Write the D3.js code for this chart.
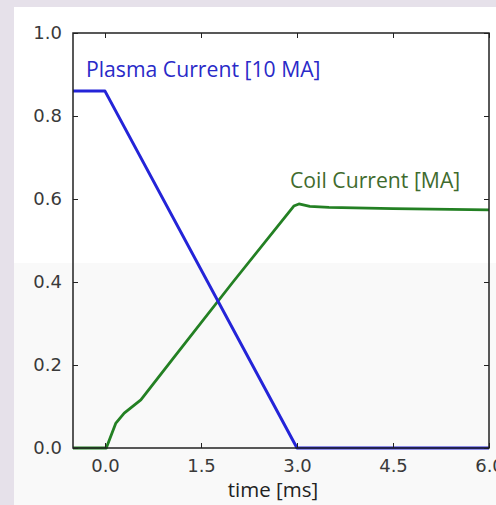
<!DOCTYPE html>
<html>
<head>
<meta charset="utf-8">
<script src="https://cdn.jsdelivr.net/npm/d3@7"></script>
<style>
html,body{margin:0;padding:0;background:#e6e1ea;overflow:hidden;}
svg{display:block;}
</style>
</head>
<body>
<svg id="c" width="496" height="505"></svg>
<script>
// ---- data ----
const plasmaT = [-0.5, 0.0, 3.0, 6.0];
const plasmaI = [0.86, 0.86, 0.0, 0.0];
const coilT = [-0.5, 0.02, 0.17, 0.30, 0.56, 1.05, 2.0, 2.95, 3.03, 3.2, 3.5, 4.5, 6.0];
const coilI = [0.0, 0.0, 0.06, 0.084, 0.116, 0.213, 0.40, 0.583, 0.588, 0.582, 0.580, 0.577, 0.574];
const xTicks = [0.0, 1.5, 3.0, 4.5, 6.0];
const yTicks = [0.0, 0.2, 0.4, 0.6, 0.8, 1.0];
const plasmaLabel = "Plasma Current [10 MA]";
const coilLabel = "Coil Current [MA]";
const xLabel = "time [ms]";

const svg = d3.select("#c");
// panel
svg.append("rect").attr("x",14).attr("y",7).attr("width",482).attr("height",498).attr("fill","#ffffff");
svg.append("rect").attr("x",14).attr("y",263).attr("width",482).attr("height",242).attr("fill","#f9f9f9");

const L = 73, R = 489, T = 33, B = 448;
const x = d3.scaleLinear().domain([-0.5, 6.0]).range([L, R]);
const y = d3.scaleLinear().domain([0, 1.0]).range([B, T]);

const tickFont = "'DejaVu Sans', sans-serif";
const textCol = "#3a3a3a";

// lines
const line = d3.line().x(d=>x(d[0])).y(d=>y(d[1]));

svg.append("path").datum(coilT.map((t,i)=>[t,coilI[i]]))
  .attr("d",line).attr("fill","none").attr("stroke","#238023").attr("stroke-width",2.8)
  .attr("stroke-linejoin","round");
svg.append("path").datum(plasmaT.map((t,i)=>[t,plasmaI[i]]))
  .attr("d",line).attr("fill","none").attr("stroke","#2424d8").attr("stroke-width",3)
  .attr("stroke-linejoin","round");

// axes (ticks inward)
function styleAxis(g){
  g.select(".domain").remove();
  g.selectAll(".tick line").attr("stroke","#222").attr("stroke-width",1);
  g.selectAll(".tick text").attr("fill",textCol).style("font-family",tickFont).style("font-size","18px");
}
svg.append("g").attr("transform",`translate(0,${B})`)
  .call(d3.axisBottom(x).tickValues(xTicks).tickFormat(d3.format(".1f")).tickSizeInner(-5).tickPadding(11))
  .call(styleAxis);
svg.append("g").attr("transform",`translate(0,${T})`)
  .call(d3.axisTop(x).tickValues(xTicks).tickFormat("").tickSizeInner(-5))
  .call(styleAxis);
svg.append("g").attr("transform",`translate(${L},0)`)
  .call(d3.axisLeft(y).tickValues(yTicks).tickFormat(d3.format(".1f")).tickSizeInner(-5).tickPadding(11))
  .call(styleAxis);
svg.append("g").attr("transform",`translate(${R},0)`)
  .call(d3.axisRight(y).tickValues(yTicks).tickFormat("").tickSizeInner(-5))
  .call(styleAxis);

// frame
svg.append("rect").attr("x",L).attr("y",T).attr("width",R-L).attr("height",B-T)
  .attr("fill","none").attr("stroke","#222").attr("stroke-width",1.5);

// annotations
svg.append("text").attr("x",86).attr("y",77).text(plasmaLabel)
  .attr("fill","#2a2ac8").style("font-family","'Open Sans', sans-serif").style("font-size","21.2px");
svg.append("text").attr("x",290).attr("y",188).text(coilLabel)
  .attr("fill","#3f6b2e").style("font-family","'Open Sans', sans-serif").style("font-size","21.2px");
svg.append("text").attr("x",273).attr("y",497).attr("text-anchor","middle").text(xLabel)
  .attr("fill","#222").style("font-family","'Open Sans', sans-serif").style("font-size","20.5px");
</script>
</body>
</html>
